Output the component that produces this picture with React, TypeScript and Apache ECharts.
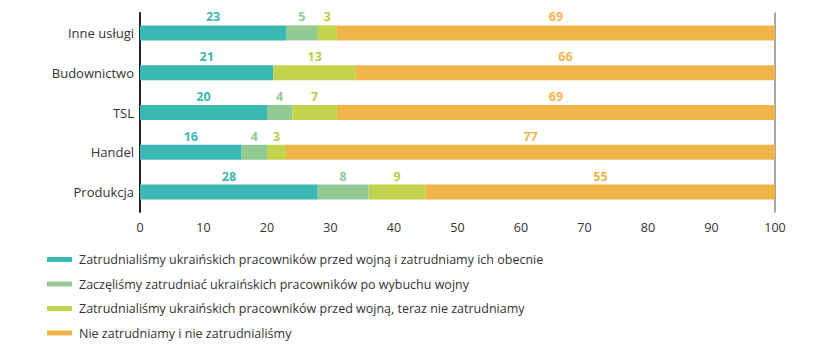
import React, { useEffect, useRef } from "react";
import * as echarts from "echarts";

const categories = ["Produkcja", "Handel", "TSL", "Budownictwo", "Inne usługi"];
const seriesNames = [
  "Zatrudnialiśmy ukraińskich pracowników przed wojną i zatrudniamy ich obecnie",
  "Zaczęliśmy zatrudniać ukraińskich pracowników po wybuchu wojny",
  "Zatrudnialiśmy ukraińskich pracowników przed wojną, teraz nie zatrudniamy",
  "Nie zatrudniamy i nie zatrudnialiśmy",
];
const employedBoth = [28, 16, 20, 21, 23];
const startedAfter = [8, 4, 4, 0, 5];
const stoppedNow = [9, 3, 7, 13, 3];
const never = [55, 77, 69, 66, 69];
const xTicks = [0, 10, 20, 30, 40, 50, 60, 70, 80, 90, 100];

const colors = ["#3BB8B4", "#93C992", "#C2D44E", "#F0B54A"];
const labelColors = ["#3BB8B4", "#93C992", "#B9CC45", "#F0B54A"];

export default function App() {
  const ref = useRef<HTMLDivElement>(null);
  useEffect(() => {
    if (!ref.current) return;
    const chart = echarts.init(ref.current, null, { renderer: "svg" });
    const values = [employedBoth, startedAfter, stoppedNow, never];
    const font = "'Open Sans', 'Noto Sans', sans-serif";
    chart.setOption({
      animation: false,
      textStyle: { fontFamily: font },
      grid: { left: 140, right: 48, top: 13, bottom: 143, containLabel: false },
      legend: {
        orient: "vertical",
        left: 42,
        top: 248,
        itemGap: 11.5,
        itemWidth: 25,
        itemHeight: 5,
        icon: "rect",
        textStyle: { fontSize: 12.5, color: "#333", fontFamily: font, padding: [0, 0, 0, 2] },
        data: seriesNames,
      },
      xAxis: {
        type: "value",
        min: 0,
        max: 100,
        interval: 10,
        axisLine: { show: false },
        axisTick: { show: false },
        splitLine: { show: false },
        axisLabel: {
          color: "#333",
          fontSize: 12.5,
          margin: 9,
          formatter: (v: number) => (xTicks.includes(v) ? String(v) : ""),
        },
      },
      yAxis: [
        {
          type: "category",
          data: categories,
          axisLine: { show: true, lineStyle: { color: "#222", width: 2 } },
          axisTick: { show: false },
          axisLabel: { color: "#333", fontSize: 13, margin: 6 },
        },
        {
          type: "category",
          data: categories,
          position: "right",
          axisLine: { show: true, lineStyle: { color: "#888", width: 1.5 } },
          axisTick: { show: false },
          axisLabel: { show: false },
        },
      ],
      series: seriesNames.map((name, i) => ({
        name,
        type: "bar",
        stack: "total",
        barWidth: 15,
        data: values[i],
        itemStyle: { color: colors[i] },
        label: {
          show: true,
          position: "top",
          distance: 2,
          color: labelColors[i],
          fontWeight: "bold",
          fontSize: 12.5,
          formatter: (p: any) => (p.value ? String(p.value) : ""),
        },
      })),
    });
    return () => chart.dispose();
  }, []);
  return <div ref={ref} style={{ width: 823, height: 355, margin: -8 }} />;
}
